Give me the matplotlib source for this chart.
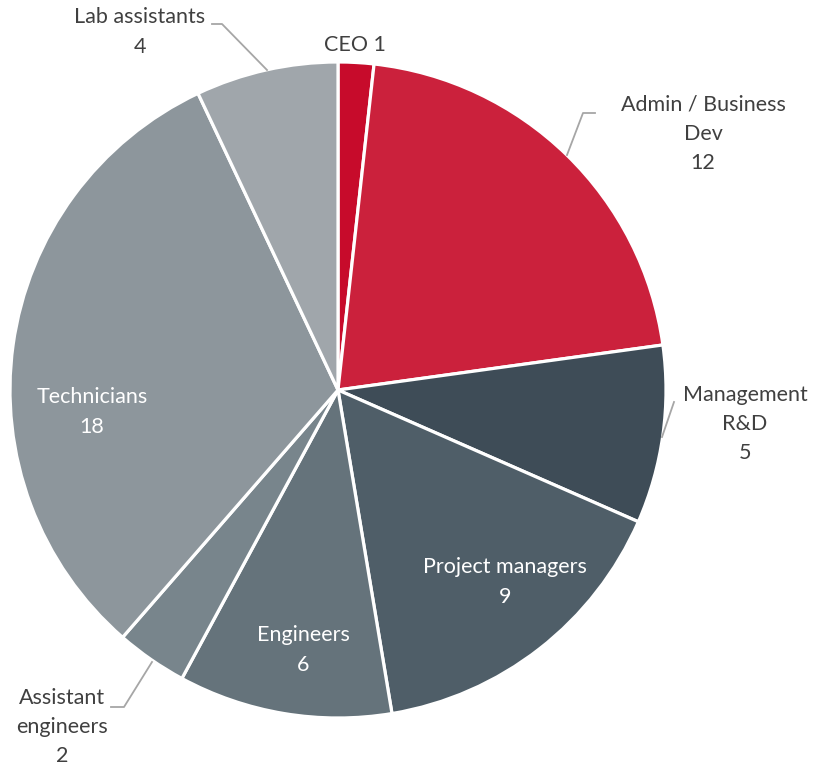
import matplotlib.pyplot as plt

# data
roles = ['CEO', 'Admin / Business\nDev', 'Management\nR&D', 'Project managers',
         'Engineers', 'Assistant\nengineers', 'Technicians', 'Lab assistants']
counts = [1, 12, 5, 9, 6, 2, 18, 4]
colors = ['#C70B2B', '#CB213C', '#3E4C57', '#4F5E68', '#65737B',
          '#78858C', '#8D969C', '#A0A6AB']

plt.rcParams['font.family'] = ['Lato', 'DejaVu Sans']

W, H = 813, 769
fig = plt.figure(figsize=(W / 100, H / 100), dpi=100)
ax = fig.add_axes([0, 0, 1, 1])

# pie drawn in pixel coords (y flipped -> counterclock=True gives clockwise on screen)
cx, cy, r = 338, 390, 328
ax.pie(counts, colors=colors, startangle=-90, counterclock=True,
       center=(cx, cy), radius=r, frame=True,
       wedgeprops=dict(edgecolor='white', linewidth=2.3))
ax.set_xlim(0, W)
ax.set_ylim(H, 0)
ax.axis('off')

dark = '#404040'
fs = 15.5
# label positions (pixel, centre of text block)
label_pos = {
    0: (355, 45, dark),
    1: (703, 134, dark),
    2: (745, 424, dark),
    3: (505, 582, 'white'),
    4: (303, 650, 'white'),
    5: (62, 727, dark),
    6: (92, 412, 'white'),
    7: (140, 32, dark),
}
for i, (x, y, c) in label_pos.items():
    if i == 0:
        txt = f'{roles[i]} {counts[i]}'
    else:
        txt = f'{roles[i]}\n{counts[i]}'
    ax.text(x, y, txt, ha='center', va='center', color=c, fontsize=fs,
            linespacing=1.58)

# leader lines
lc = '#A6A6A6'
ax.plot([212, 222, 267], [24, 24, 70], color=lc, lw=1.3)
ax.plot([595, 583, 567], [113, 113, 155], color=lc, lw=1.3)
ax.plot([674, 662], [402, 437], color=lc, lw=1.3)
ax.plot([111, 124, 152], [707, 707, 662], color=lc, lw=1.3)

fig.savefig('out.png', dpi=100)
